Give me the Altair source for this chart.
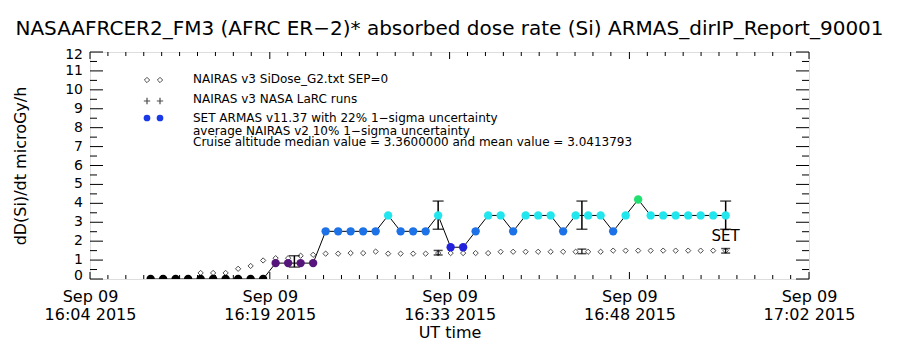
import altair as alt
import pandas as pd

# ---------------- data ----------------
DAY = "2015-09-09"
set_times = [
    "16:09:46", "16:10:46", "16:11:46", "16:12:46", "16:13:46", "16:14:46", "16:15:46", "16:16:46",
    "16:17:46", "16:18:46", "16:19:46", "16:20:46", "16:21:46", "16:22:46", "16:23:46", "16:24:46",
    "16:25:46", "16:26:46", "16:27:46", "16:28:46", "16:29:46", "16:30:46", "16:31:46", "16:32:46",
    "16:33:46", "16:34:46", "16:35:46", "16:36:46", "16:37:46", "16:38:46", "16:39:46", "16:40:46",
    "16:41:46", "16:42:46", "16:43:46", "16:44:46", "16:45:46", "16:46:46", "16:47:46", "16:48:46",
    "16:49:46", "16:50:46", "16:51:46", "16:52:46", "16:53:46", "16:54:46", "16:55:46",
]
set_values = [
    0.0, 0.0, 0.0, 0.0, 0.0, 0.0, 0.0, 0.0, 0.0, 0.0,
    0.84, 0.84, 0.84, 0.84,
    2.52, 2.52, 2.52, 2.52, 2.52,
    3.36,
    2.52, 2.52, 2.52,
    3.36,
    1.68, 1.68,
    2.52,
    3.36, 3.36,
    2.52,
    3.36, 3.36, 3.36,
    2.52,
    3.36, 3.36, 3.36,
    2.52,
    3.36,
    4.20,
    3.36, 3.36, 3.36, 3.36, 3.36, 3.36, 3.36,
]
nairas_values = [
    0.04, 0.04, 0.04, 0.04, 0.32, 0.32, 0.32, 0.54, 0.69, 0.98,
    1.10, 1.10, 1.23, 1.28, 1.34, 1.34, 1.37, 1.37, 1.45, 1.34,
    1.34, 1.34, 1.34, 1.37, 1.37, 1.37, 1.37, 1.37, 1.44, 1.44,
    1.44, 1.44, 1.44, 1.44, 1.44, 1.44, 1.44, 1.50, 1.50, 1.50,
    1.50, 1.50, 1.50, 1.50, 1.50, 1.50, 1.50,
]
set_err_times = ["16:21:16", "16:32:46", "16:44:16", "16:55:46"]
set_err_lo = [0.63, 2.63, 2.63, 2.63]
set_err_hi = [1.23, 4.12, 4.12, 4.12]
nai_err_times = ["16:32:46", "16:44:16", "16:55:46"]
nai_err_lo = [1.27, 1.34, 1.37]
nai_err_hi = [1.51, 1.58, 1.61]

level_values = [0.0, 0.84, 1.68, 2.52, 3.36, 4.20]
level_colors = ["#000000", "#56157a", "#2222dd", "#1c72e6", "#22e6ee", "#22e070"]

x_domain = ["16:04:55", "17:02:26"]
x_ticks = ["16:04:55", "16:19:18", "16:33:41", "16:48:04", "17:02:26"]
y_major = [0, 1, 2, 3, 4, 5, 6, 7, 8, 9, 10, 11, 12]
y_minor = [0.5, 1.5, 2.5, 3.5, 4.5, 5.5, 6.5, 7.5, 8.5, 9.5, 10.5, 11.5]

title_text = "NASAAFRCER2_FM3 (AFRC ER−2)* absorbed dose rate (Si) ARMAS_dirIP_Report_90001"
legend_lines = [
    "NAIRAS v3 SiDose_G2.txt SEP=0",
    "NAIRAS v3 NASA LaRC runs",
    "SET ARMAS v11.37 with 22% 1−sigma uncertainty",
    "average NAIRAS v2 10% 1−sigma uncertainty",
    "Cruise altitude median value = 3.3600000 and mean value = 3.0413793",
]

FONT = "DejaVu Sans"
W, H = 719, 227


def ts(s):
    return pd.Timestamp(f"{DAY}T{s}Z")


df = pd.DataFrame({
    "t": [ts(s) for s in set_times],
    "v": set_values,
    "n": nairas_values,
})
df["level"] = [f"{v:.2f}" for v in df["v"]]
err_set = pd.DataFrame({"t": [ts(s) for s in set_err_times], "lo": set_err_lo, "hi": set_err_hi})
err_nai = pd.DataFrame({"t": [ts(s) for s in nai_err_times], "lo": nai_err_lo, "hi": nai_err_hi})

xd = [ts(s) for s in x_domain]
xt = [ts(s) for s in x_ticks]
# minor x ticks: ten per major interval
x_minor = []
for a, b in zip(xt[:-1], xt[1:]):
    step = (b - a) / 10
    for k in range(1, 10):
        x_minor.append(a + step * k)

xscale = alt.Scale(type="utc", domain=[d.isoformat() for d in xd], nice=False)
yscale = alt.Scale(domain=[0, 12], nice=False, zero=False)

X = alt.X("t:T", scale=xscale, axis=alt.Axis(
    values=[d.isoformat() for d in xt],
    labelExpr="[utcFormat(datum.value, '%b %d'), utcFormat(datum.value, '%H:%M %Y')]",
    ticks=False, domain=False, grid=False, labelFontSize=16, labelFont=FONT,
    labelBaseline="top", labelPadding=9, labelLineHeight=18, labelFlush=False,
    labelOverlap=False, labelColor="black",
    title="UT time", titleFontSize=16, titleFont=FONT, titleFontWeight="normal",
    titlePadding=2, titleColor="black"))
Y = alt.Y("v:Q", scale=yscale, axis=alt.Axis(
    labels=False, ticks=False, domain=False, grid=False,
    title="dD(Si)/dt microGy/h", titleFontSize=16, titleFont=FONT,
    titleFontWeight="normal", titlePadding=62, titleColor="black"))

line = alt.Chart(df).mark_line(color="black", strokeWidth=1, clip=True).encode(x=X, y=Y)
points = alt.Chart(df).mark_circle(size=70, opacity=1, clip=True).encode(
    x="t:T", y="v:Q",
    color=alt.Color("level:N", scale=alt.Scale(domain=[f"{v:.2f}" for v in level_values],
                                               range=level_colors), legend=None))
diamonds = alt.Chart(df).mark_point(shape="diamond", filled=False, color="black",
                                    size=28, strokeWidth=1, clip=True).encode(
    x="t:T", y=alt.Y("n:Q"))

eb_rule = alt.Chart(err_set).mark_rule(color="black", strokeWidth=1.5).encode(
    x="t:T", y="lo:Q", y2="hi:Q")
eb_lo = alt.Chart(err_set).mark_tick(orient="horizontal", color="black", size=11,
                                     thickness=1.5).encode(x="t:T", y="lo:Q")
eb_hi = alt.Chart(err_set).mark_tick(orient="horizontal", color="black", size=11,
                                     thickness=1.5).encode(x="t:T", y="hi:Q")
nb_rule = alt.Chart(err_nai).mark_rule(color="black", strokeWidth=1.2).encode(
    x="t:T", y="lo:Q", y2="hi:Q")
nb_lo = alt.Chart(err_nai).mark_tick(orient="horizontal", color="black", size=9,
                                     thickness=1.5).encode(x="t:T", y="lo:Q")
nb_hi = alt.Chart(err_nai).mark_tick(orient="horizontal", color="black", size=9,
                                     thickness=1.5).encode(x="t:T", y="hi:Q")

set_label = alt.Chart(pd.DataFrame({"t": [ts(set_err_times[-1])], "v": [2.25], "s": ["SET"]})).mark_text(
    font=FONT, fontSize=15, color="black", baseline="middle", align="center").encode(
    x="t:T", y="v:Q", text="s:N")

# y tick labels (drawn as text so every one shows)
ylab = pd.DataFrame({"v": y_major, "lab": [str(v) for v in y_major]})
ylab_mid = ylab[(ylab.v > y_major[0]) & (ylab.v < y_major[-1])]
ylab_lo = ylab[ylab.v == y_major[0]]
ylab_hi = ylab[ylab.v == y_major[-1]]
YLF = 14
ylab_layers = [
    alt.Chart(ylab_mid).mark_text(font=FONT, fontSize=YLF, color="black", align="right",
                                  baseline="middle").encode(y="v:Q", x=alt.value(-7), text="lab:N"),
    alt.Chart(ylab_lo).mark_text(font=FONT, fontSize=YLF, color="black", align="right",
                                 baseline="middle", dy=-3).encode(y="v:Q", x=alt.value(-7), text="lab:N"),
    alt.Chart(ylab_hi).mark_text(font=FONT, fontSize=YLF, color="black", align="right",
                                 baseline="middle", dy=3).encode(y="v:Q", x=alt.value(-7), text="lab:N"),
]

# inward frame ticks
ymaj = pd.DataFrame({"v": y_major})
ymin = pd.DataFrame({"v": y_minor})
tick_layers = [
    alt.Chart(ymaj).mark_rule(color="black").encode(y="v:Q", x=alt.value(0), x2=alt.value(13)),
    alt.Chart(ymin).mark_rule(color="black").encode(y="v:Q", x=alt.value(0), x2=alt.value(7)),
    alt.Chart(ymaj).mark_rule(color="black").encode(y="v:Q", x=alt.value(W - 13), x2=alt.value(W)),
    alt.Chart(ymin).mark_rule(color="black").encode(y="v:Q", x=alt.value(W - 7), x2=alt.value(W)),
]
xmaj = pd.DataFrame({"t": xt})
xmin = pd.DataFrame({"t": x_minor})
tick_layers += [
    alt.Chart(xmaj).mark_rule(color="black").encode(x="t:T", y=alt.value(H - 7), y2=alt.value(H)),
    alt.Chart(xmin).mark_rule(color="black").encode(x="t:T", y=alt.value(H - 4), y2=alt.value(H)),
    alt.Chart(xmaj).mark_rule(color="black").encode(x="t:T", y=alt.value(0), y2=alt.value(7)),
    alt.Chart(xmin).mark_rule(color="black").encode(x="t:T", y=alt.value(0), y2=alt.value(4)),
]

# legend (annotation)
leg_y = [27, 47, 66, 79, 90]
leg_layers = []
for txt, yy in zip(legend_lines, leg_y):
    leg_layers.append(alt.Chart(pd.DataFrame({"s": [txt]})).mark_text(
        font=FONT, fontSize=12, color="black", align="left", baseline="middle").encode(
        text="s:N", x=alt.value(103), y=alt.value(yy)))
PLUS = "M-1,0L1,0M0,-1L0,1"
for xx in (57, 70):
    leg_layers.append(alt.Chart(pd.DataFrame({"a": [1]})).mark_point(
        shape="diamond", filled=False, color="black", size=28, strokeWidth=1).encode(
        x=alt.value(xx), y=alt.value(28)))
    leg_layers.append(alt.Chart(pd.DataFrame({"a": [1]})).mark_point(
        shape=PLUS, filled=False, color="black", size=40, strokeWidth=1.2).encode(
        x=alt.value(xx), y=alt.value(49)))
    leg_layers.append(alt.Chart(pd.DataFrame({"a": [1]})).mark_circle(
        color="#1a3ae8", size=45, opacity=1).encode(x=alt.value(xx), y=alt.value(66)))

chart = alt.layer(
    line, *tick_layers, *ylab_layers, diamonds, eb_rule, eb_lo, eb_hi, nb_rule, nb_lo, nb_hi,
    points, set_label, *leg_layers
).properties(
    width=W, height=H,
    title=alt.TitleParams(title_text, font=FONT, fontSize=20, fontWeight="normal",
                          color="black", anchor="middle", frame="group", offset=-7,
                          baseline="alphabetic"),
    padding={"left": 90, "top": 52, "right": 91, "bottom": 71},
    autosize=alt.AutoSizeParams(type="none"),
).configure_view(stroke="black", strokeWidth=1).configure(background="white")

chart.save("out.html", embed_options={"renderer": "svg", "actions": False})
